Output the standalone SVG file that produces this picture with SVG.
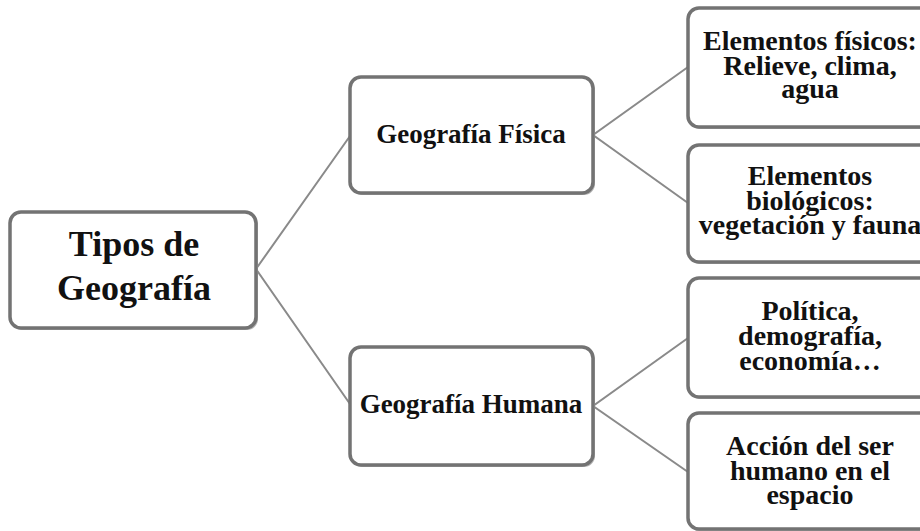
<svg xmlns="http://www.w3.org/2000/svg" width="920" height="531" viewBox="0 0 920 531">
<style>
.box{fill:#fff;stroke:#737373;stroke-width:3.5}
.sh{fill:#b5b5b5}
.t{font-family:"Liberation Serif","Times New Roman",serif;font-weight:bold;fill:#111;text-anchor:middle}
.lg{font-size:36px}
.md{font-size:27px}
.sm{font-size:28px}
.con{stroke:#8a8a8a;stroke-width:2;fill:none}
</style>
<rect width="920" height="531" fill="#fff"/>
<g id="connectors">
<polyline class="con" points="350,136 256,269 350,404"/>
<polyline class="con" points="688,67 593,135 688,203"/>
<polyline class="con" points="688,338 593,406 688,472"/>
</g>
<g id="root">
<rect class="sh" x="12" y="214" width="246" height="116" rx="11"/>
<rect class="box" x="10" y="212" width="246" height="116" rx="11"/>
<text class="t lg" x="134" y="256">Tipos de</text>
<text class="t lg" x="134" y="300">Geografía</text>
</g>
<g id="fisica">
<rect class="sh" x="352" y="79" width="243" height="116" rx="11"/>
<rect class="box" x="350" y="77" width="243" height="116" rx="11"/>
<text class="t md" x="471" y="143">Geografía Física</text>
</g>
<g id="humana">
<rect class="sh" x="352" y="349" width="243" height="118" rx="11"/>
<rect class="box" x="350" y="347" width="243" height="118" rx="11"/>
<text class="t md" x="471" y="413">Geografía Humana</text>
</g>
<g id="fisicos">
<rect class="sh" x="690" y="10" width="250" height="119" rx="11"/>
<rect class="box" x="688" y="8" width="250" height="119" rx="11"/>
<text class="t sm" x="810" y="50">Elementos físicos:</text>
<text class="t sm" x="810" y="75">Relieve, clima,</text>
<text class="t sm" x="810" y="98">agua</text>
</g>
<g id="biologicos">
<rect class="sh" x="690" y="147" width="250" height="117" rx="11"/>
<rect class="box" x="688" y="145" width="250" height="117" rx="11"/>
<text class="t sm" x="810" y="185">Elementos</text>
<text class="t sm" x="810" y="210">biológicos:</text>
<text class="t sm" x="810" y="234">vegetación y fauna</text>
</g>
<g id="politica">
<rect class="sh" x="690" y="280" width="250" height="119" rx="11"/>
<rect class="box" x="688" y="278" width="250" height="119" rx="11"/>
<text class="t sm" x="810" y="320">Política,</text>
<text class="t sm" x="810" y="345">demografía,</text>
<text class="t sm" x="810" y="370">economía…</text>
</g>
<g id="accion">
<rect class="sh" x="690" y="415" width="250" height="117" rx="11"/>
<rect class="box" x="688" y="413" width="250" height="116" rx="11"/>
<text class="t sm" x="810" y="455">Acción del ser</text>
<text class="t sm" x="810" y="480">humano en el</text>
<text class="t sm" x="810" y="504">espacio</text>
</g>
</svg>
